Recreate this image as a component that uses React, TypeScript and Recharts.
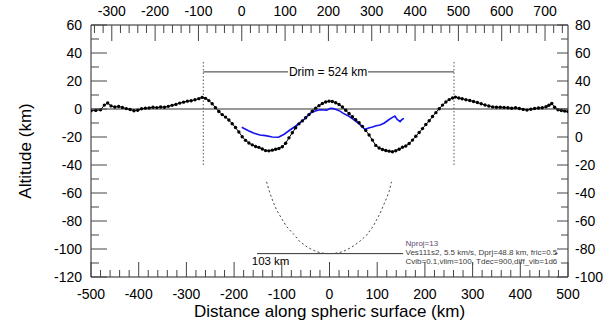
import React from 'react';
import { ComposedChart, Line, XAxis, YAxis, ReferenceLine, Scatter } from 'recharts';

const FONT = '"Liberation Sans", Arial, Helvetica, sans-serif';

// ---- tick labels ----
const bottomLabels = [-500, -400, -300, -200, -100, 0, 100, 200, 300, 400, 500];
const topLabels = [-300, -200, -100, 0, 100, 200, 300, 400, 500, 600, 700];
const leftLabels = [60, 40, 20, 0, -20, -40, -60, -80, -100, -120];
const rightLabels = [80, 60, 40, 20, 0, -20, -40, -60, -80, -100];

const withMinor = (lo: number, hi: number, step: number) => {
  const a: number[] = [];
  for (let v = lo; v <= hi + 1e-9; v += step) a.push(Math.round(v));
  return a;
};
const bottomTicks = withMinor(-500, 500, 20);
const topTicks = withMinor(-340, 740, 20);
const leftTicks = withMinor(-120, 60, 10);
const rightTicks = withMinor(-100, 80, 10);

// ---- profile (black, dotted markers) ----
const profileKm = [
  -500, -490, -480, -472, -465, -458, -450, -442, -434, -426, -418, -410, -402, -394, -386, -378, -370, -362, -354, -346,
  -338, -330, -322, -314, -306, -298, -290, -282, -274, -267, -260, -253, -246, -239, -232, -225, -218, -211, -204, -197,
  -190, -183, -176, -169, -162, -155, -148, -141, -134, -127, -120, -113, -106, -99, -92, -85, -78, -71, -64, -57,
  -50, -43, -36, -29, -22, -15, -8, -1, 6, 13, 20, 27, 34, 41, 48, 55, 62, 69, 76, 83,
  90, 97, 104, 111, 118, 125, 132, 139, 146, 153, 160, 167, 174, 181, 188, 195, 202, 209, 216, 223,
  230, 237, 244, 251, 258, 264, 271, 278, 286, 294, 302, 310, 318, 326, 334, 342, 350, 358, 366, 374,
  382, 390, 398, 406, 414, 422, 430, 438, 446, 454, 460, 466, 472, 479, 486, 493, 500,
];
const profileAlt = [
  -1.3, -1.0, -0.6, 2.8, 4.3, 2.2, 1.4, 1.8, 1.1, 0.3, -0.4, -1.2, -0.9, 0.2, 0.6, 0.8, 1.2, 1.0, 1.4, 1.2,
  1.9, 2.6, 3.3, 4.2, 4.9, 5.6, 5.9, 6.6, 7.4, 8.3, 7.6, 6.0, 3.8, 1.0, -1.8, -4.0, -5.8, -7.9, -10.5, -13.2,
  -16.4, -19.8, -22.4, -24.3, -25.6, -26.8, -27.4, -28.6, -29.7, -29.9, -29.4, -28.8, -28.2, -27.0, -24.5, -20.6, -17.0, -13.4, -10.6, -8.5,
  -6.2, -4.0, -1.6, 0.6, 2.4, 3.9, 5.0, 5.6, 5.4, 4.5, 3.2, 1.4, -0.9, -3.2, -5.5, -7.6, -9.8, -12.4, -15.3, -18.6,
  -22.2, -26.0, -27.9, -28.9, -29.6, -30.1, -30.5, -29.8, -28.7, -27.3, -26.4, -24.6, -22.2, -19.5, -16.8, -14.0, -11.1, -8.4, -5.4, -2.6,
  0.2, 2.8, 5.0, 6.7, 7.9, 8.5, 7.9, 7.3, 6.6, 6.1, 5.4, 4.6, 3.7, 2.9, 2.1, 1.5, 1.3, 1.3, 1.1, 0.9,
  0.5, 0.9, 0.4, -0.3, -0.8, -0.2, 0.4, 0.7, 0.9, 1.6, 2.7, 3.9, 1.2, -0.6, -1.1, -1.5, -1.8,
];

// ---- blue profile ----
const blueKm = [
  -184, -170, -158, -146, -134, -120, -107, -95, -83, -72, -62, -52, -41, -30, -20, -12, -6, 2, 8, 15,
  22, 29, 40, 50, 60, 68, 74, 82, 90, 98, 106, 115, 125, 132, 137, 142, 148, 152, 156,
];
const blueAlt = [
  -13, -15.5, -17.3, -18.6, -19.0, -20.0, -20.2, -18.0, -15.0, -12.5, -9.8, -7.0, -3.1, -1.5, -0.5, -0.7, -0.8, 0.5, 0.3, -0.5,
  -1.5, -3.1, -5.0, -7.4, -10.0, -12.5, -14.5, -13.5, -12.8, -12.0, -11.4, -10.0, -7.5, -6.0, -5.0, -7.5, -9.0, -7.5, -6.7,
];

// ---- projected bowl (dotted) ----
const bowlKm = [-132, -125, -118, -111, -100, -90, -75, -62, -45, -27, -10, 0, 10, 27, 45, 62, 78, 92, 106, 118, 125, 130];
const bowlAlt = [-52, -60, -66.5, -72, -78.5, -84, -89.5, -94.8, -99, -102, -103.2, -103.3, -103.2, -102, -99, -95, -90, -83.5, -74.5, -65, -59, -52];

// ---- annotation geometry (data coordinates) ----
const rimLeft = -264.6;
const rimRight = 261;
const rimTop = 33.6;
const rimBottom = -40;
const drimAlt = 26.5;
const drimGap = [-87, 80.7];
const depthAlt = -103.3;
const depthSegs = [[-152, 154.4], [472.7, 478]];

const annotations = [
  { x: -3, y: 26.5, text: 'Drim = 524 km', size: 12, anchor: 'middle', color: '#000', dy: 4.3 },
  { x: -163, y: -108.4, text: '103 km', size: 11.5, anchor: 'start', color: '#000', dy: 4.1 },
  { x: 159.3, y: -95.7, text: 'Nproj=13', size: 8, anchor: 'start', color: '#5b4a6e', dy: 2.9 },
  { x: 159.3, y: -102.1, text: 'Ves111s2, 5.5 km/s, Dprj=48.8 km, fric=0.5', size: 8, anchor: 'start', color: '#3c3c3c', dy: 2.9 },
  { x: 159.3, y: -108.6, text: 'Cvib=0.1,vlim=100, Tdec=900,diff_vib=1d6', size: 8, anchor: 'start', color: '#3c3c3c', dy: 2.9 },
];

const zip = (xs: number[], ys: number[]) => xs.map((x, i) => ({ x, y: ys[i] }));
const profileData = zip(profileKm, profileAlt);
const blueData = zip(blueKm, blueAlt);
const bowlData = zip(bowlKm, bowlAlt);

const TICK_COLOR = '#444';

const BottomTick = (p: any) => {
  const { x, y, payload } = p;
  const major = bottomLabels.includes(payload.value);
  return (
    <g>
      <line x1={x} y1={y} x2={x} y2={y - (major ? 15 : 7)} stroke={TICK_COLOR} strokeWidth={1} />
      {major && (
        <text x={x} y={y + 22} textAnchor="middle" fontSize={14} fontFamily={FONT} fill="#000">
          {payload.value}
        </text>
      )}
    </g>
  );
};

const TopTick = (p: any) => {
  const { x, y, payload } = p;
  const major = topLabels.includes(payload.value);
  return (
    <g>
      <line x1={x} y1={y} x2={x} y2={y + (major ? 16 : 8)} stroke={TICK_COLOR} strokeWidth={1} />
      {major && (
        <text x={x} y={y - 9.3} textAnchor="middle" fontSize={14} fontFamily={FONT} fill="#000">
          {payload.value}
        </text>
      )}
    </g>
  );
};

const LeftTick = (p: any) => {
  const { x, y, payload } = p;
  const major = leftLabels.includes(payload.value);
  return (
    <g>
      <line x1={x} y1={y} x2={x + (major ? 16 : 8)} y2={y} stroke={TICK_COLOR} strokeWidth={1} />
      {major && (
        <text x={x - 9} y={y + 5} textAnchor="end" fontSize={14} fontFamily={FONT} fill="#000">
          {payload.value}
        </text>
      )}
    </g>
  );
};

const RightTick = (p: any) => {
  const { x, y, payload } = p;
  const major = rightLabels.includes(payload.value);
  return (
    <g>
      <line x1={x} y1={y} x2={x - (major ? 11 : 7)} y2={y} stroke={TICK_COLOR} strokeWidth={1} />
      {major && (
        <text x={x + 7} y={y + 5} textAnchor="start" fontSize={14} fontFamily={FONT} fill="#000">
          {payload.value}
        </text>
      )}
    </g>
  );
};

const AnnoShape = (p: any) => {
  const d = p.payload;
  return (
    <text
      x={p.cx}
      y={p.cy}
      dy={d.dy}
      textAnchor={d.anchor}
      fontSize={d.size}
      fontFamily={FONT}
      fill={d.color}
    >
      {d.text}
    </text>
  );
};

export default function App() {
  return (
    <div style={{ position: 'absolute', left: 0, top: 0, width: 613, height: 324, background: '#fff' }}>
      <ComposedChart width={613} height={324} margin={{ top: 0, right: 0, bottom: 0, left: 0 }}>
        <XAxis
          xAxisId="B"
          dataKey="x"
          type="number"
          orientation="bottom"
          domain={[-500, 500]}
          ticks={bottomTicks}
          interval={0}
          tickSize={0}
          tickMargin={0}
          tickLine={false}
          tick={BottomTick}
          axisLine={{ stroke: '#222' }}
          height={47}
          allowDataOverflow
          label={{
            value: 'Distance along spheric surface (km)',
            position: 'insideBottom',
            offset: 7,
            fontSize: 17,
            fontFamily: FONT,
            fill: '#000',
          }}
        />
        <XAxis
          xAxisId="T"
          dataKey="x"
          type="number"
          orientation="top"
          domain={[-348, 753]}
          ticks={topTicks}
          interval={0}
          tickSize={0}
          tickMargin={0}
          tickLine={false}
          tick={TopTick}
          axisLine={{ stroke: '#222' }}
          height={25}
          allowDataOverflow
        />
        <YAxis
          yAxisId="L"
          type="number"
          orientation="left"
          domain={[-120, 60]}
          ticks={leftTicks}
          interval={0}
          tickSize={0}
          tickMargin={0}
          tickLine={false}
          tick={LeftTick}
          axisLine={{ stroke: '#222' }}
          width={91}
          allowDataOverflow
          label={{
            value: 'Altitude (km)',
            angle: -90,
            position: 'insideLeft',
            offset: 25,
            fontSize: 17,
            fontFamily: FONT,
            fill: '#000',
            style: { textAnchor: 'middle' },
          }}
        />
        <YAxis
          yAxisId="R"
          type="number"
          orientation="right"
          domain={[-100, 80]}
          ticks={rightTicks}
          interval={0}
          tickSize={0}
          tickMargin={0}
          tickLine={false}
          tick={RightTick}
          axisLine={{ stroke: '#222' }}
          width={45}
          allowDataOverflow
        />

        <ReferenceLine xAxisId="B" yAxisId="L" y={0} stroke="#333" strokeWidth={1} />

        <ReferenceLine
          xAxisId="B"
          yAxisId="L"
          segment={[{ x: rimLeft, y: rimTop }, { x: rimLeft, y: rimBottom }]}
          stroke="#555"
          strokeDasharray="1.5 2"
        />
        <ReferenceLine
          xAxisId="B"
          yAxisId="L"
          segment={[{ x: rimRight, y: rimTop }, { x: rimRight, y: rimBottom }]}
          stroke="#555"
          strokeDasharray="1.5 2"
        />
        <ReferenceLine
          xAxisId="B"
          yAxisId="L"
          segment={[{ x: rimLeft, y: drimAlt }, { x: drimGap[0], y: drimAlt }]}
          stroke="#333"
        />
        <ReferenceLine
          xAxisId="B"
          yAxisId="L"
          segment={[{ x: drimGap[1], y: drimAlt }, { x: rimRight, y: drimAlt }]}
          stroke="#333"
        />
        {depthSegs.map((s, i) => (
          <ReferenceLine
            key={i}
            xAxisId="B"
            yAxisId="L"
            segment={[{ x: s[0], y: depthAlt }, { x: s[1], y: depthAlt }]}
            stroke="#333"
          />
        ))}

        <Line
          xAxisId="B"
          yAxisId="L"
          data={bowlData}
          dataKey="y"
          type="linear"
          stroke="#444"
          strokeWidth={1}
          strokeDasharray="2 2.5"
          dot={false}
          activeDot={false}
          isAnimationActive={false}
        />
        <Line
          xAxisId="B"
          yAxisId="L"
          data={profileData}
          dataKey="y"
          type="linear"
          stroke="#000"
          strokeWidth={1}
          dot={{ r: 1.7, fill: '#000', stroke: 'none' }}
          activeDot={false}
          isAnimationActive={false}
        />
        <Line
          xAxisId="B"
          yAxisId="L"
          data={blueData}
          dataKey="y"
          type="linear"
          stroke="#1414f0"
          strokeWidth={1.6}
          dot={false}
          activeDot={false}
          isAnimationActive={false}
        />
        <Scatter
          xAxisId="B"
          yAxisId="L"
          data={annotations}
          dataKey="y"
          shape={AnnoShape}
          isAnimationActive={false}
        />
      </ComposedChart>
    </div>
  );
}
